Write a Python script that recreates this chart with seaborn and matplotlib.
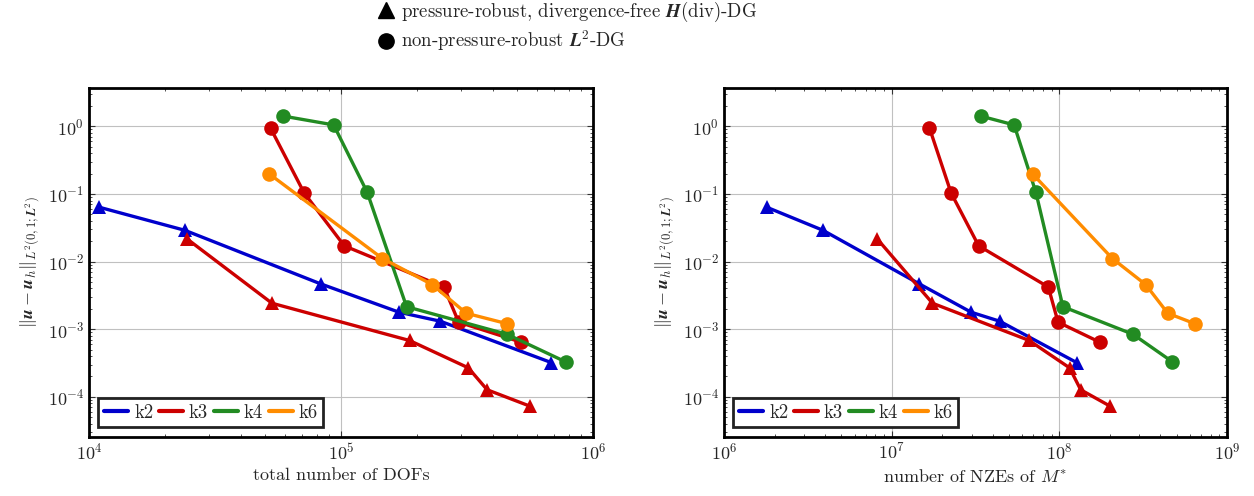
import matplotlib
import matplotlib.pyplot as plt
import pandas as pd
import seaborn as sns
from matplotlib.lines import Line2D

# errors ||u - u_h|| (same for both panels)
err_k2_hdiv = [0.0635, 0.029, 0.00468, 0.00178, 0.00131, 3.2e-4]
err_k3_hdiv = [0.0216, 0.00242, 6.8e-4, 2.68e-4, 1.27e-4, 7.3e-5]
err_k3_l2 = [0.944, 0.1035, 0.0171, 0.0042, 0.00127, 6.43e-4]
err_k4_l2 = [1.42, 1.05, 0.106, 0.00215, 8.4e-4, 3.29e-4]
err_k6_l2 = [0.198, 0.0111, 0.00457, 0.00172, 0.00121]

# total number of DOFs
dofs_k2_hdiv = [1.1e4, 2.4e4, 8.3e4, 1.7e5, 2.48e5, 6.84e5]
dofs_k3_hdiv = [2.45e4, 5.32e4, 1.87e5, 3.2e5, 3.8e5, 5.6e5]
dofs_k3_l2 = [5.25e4, 7.14e4, 1.03e5, 2.56e5, 2.93e5, 5.18e5]
dofs_k4_l2 = [5.89e4, 9.35e4, 1.27e5, 1.82e5, 4.56e5, 7.78e5]
dofs_k6_l2 = [5.19e4, 1.46e5, 2.3e5, 3.14e5, 4.54e5]

# number of NZEs of M*
nze_k2_hdiv = [1.8e6, 3.89e6, 1.46e7, 2.98e7, 4.41e7, 1.27e8]
nze_k3_hdiv = [8.2e6, 1.75e7, 6.61e7, 1.15e8, 1.34e8, 2.0e8]
nze_k3_l2 = [1.68e7, 2.26e7, 3.3e7, 8.59e7, 9.82e7, 1.74e8]
nze_k4_l2 = [3.39e7, 5.37e7, 7.24e7, 1.05e8, 2.75e8, 4.72e8]
nze_k6_l2 = [6.92e7, 2.07e8, 3.27e8, 4.43e8, 6.4e8]

series = [
    ("k2", "hdiv", dofs_k2_hdiv, nze_k2_hdiv, err_k2_hdiv),
    ("k3", "hdiv", dofs_k3_hdiv, nze_k3_hdiv, err_k3_hdiv),
    ("k3", "l2", dofs_k3_l2, nze_k3_l2, err_k3_l2),
    ("k4", "l2", dofs_k4_l2, nze_k4_l2, err_k4_l2),
    ("k6", "l2", dofs_k6_l2, nze_k6_l2, err_k6_l2),
]

rows = []
for i, (k, method, dofs, nze, err) in enumerate(series):
    for d, n, e in zip(dofs, nze, err):
        rows.append({"id": i, "k": k, "method": method, "dofs": d, "nze": n, "err": e})
df = pd.DataFrame(rows)

color_map = {"k2": "#0000cc", "k3": "#cc0000", "k4": "#228b22", "k6": "#ff8c00"}
marker_map = {"hdiv": "^", "l2": "o"}

sns.set_style("ticks")
plt.rcParams.update({
    "font.family": ["cmr10", "DejaVu Serif"],
    "mathtext.fontset": "cm",
    "axes.formatter.use_mathtext": True,
    "axes.unicode_minus": False,
    "font.size": 13,
})

fig = plt.figure(figsize=(12.54, 4.96), dpi=100)
ax_dofs = fig.add_axes([0.0710, 0.1196, 0.4019, 0.7036])
ax_nze = fig.add_axes([0.5774, 0.1196, 0.4011, 0.7036])

for ax, xcol in [(ax_dofs, "dofs"), (ax_nze, "nze")]:
    for i, (k, method, *_rest) in enumerate(series):
        sns.lineplot(
            data=df[df["id"] == i],
            x=xcol,
            y="err",
            color=color_map[k],
            marker=marker_map[method],
            markersize=10.5,
            markeredgewidth=0,
            linewidth=2.4,
            sort=False,
            ax=ax,
            legend=False,
        )
    ax.set_xscale("log")
    ax.set_yscale("log")
    ax.set_ylim(2.57e-5, 3.73)
    ax.grid(True, which="major", color="#c0c0c0", linewidth=0.8)
    ax.tick_params(which="both", direction="in", top=True, right=True, color="#333333")
    ax.tick_params(which="major", length=4, labelsize=13)
    ax.tick_params(which="minor", length=2.5)
    for spine in ax.spines.values():
        spine.set_linewidth(2)
        spine.set_color("black")
    ax.set_ylabel(r"$\|\boldsymbol{u}-\boldsymbol{u}_h\|_{L^2(0,1;\boldsymbol{L}^2)}$", fontsize=13)

    handles = [Line2D([], [], color=color_map[k], linewidth=3) for k in ["k2", "k3", "k4", "k6"]]
    leg = ax.legend(
        handles, ["k2", "k3", "k4", "k6"],
        loc="lower left", ncol=4, fontsize=13.5,
        handlelength=1.3, handletextpad=0.3, columnspacing=0.3,
        borderpad=0.3, borderaxespad=0.5, fancybox=False, framealpha=1,
    )
    leg.get_frame().set_edgecolor("#222222")
    leg.get_frame().set_linewidth(2)

ax_dofs.set_xlim(1e4, 1e6)
ax_nze.set_xlim(1e6, 1e9)
ax_dofs.set_xlabel("total number of DOFs", fontsize=13)
ax_nze.set_xlabel(r"number of NZEs of $M^{*}$", fontsize=13)

top_handles = [
    Line2D([], [], color="black", marker="^", linestyle="none", markersize=11),
    Line2D([], [], color="black", marker="o", linestyle="none", markersize=11),
]
fig.legend(
    top_handles,
    [r"pressure-robust, divergence-free $\boldsymbol{H}$(div)-DG",
     r"non-pressure-robust $\boldsymbol{L}^2$-DG"],
    loc="upper center", bbox_to_anchor=(0.451, 1.035), frameon=False,
    fontsize=13.5, handletextpad=0.2, labelspacing=0.25, handlelength=1.2,
    alignment="left",
)

fig.savefig("out.png", dpi=100)
